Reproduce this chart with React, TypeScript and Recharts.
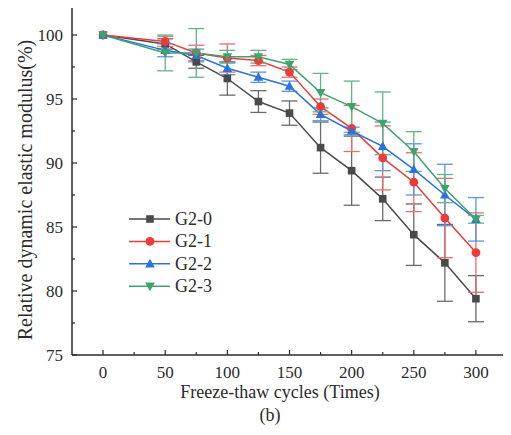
import { ErrorBar, Legend, Line, LineChart, XAxis, YAxis } from 'recharts'

const cycles = [0, 50, 75, 100, 125, 150, 175, 200, 225, 250, 275, 300]
const g20 = [100, 99.3, 97.9, 96.6, 94.8, 93.9, 91.2, 89.4, 87.2, 84.4, 82.2, 79.4]
const g21 = [100, 99.5, 98.6, 98.2, 98.0, 97.1, 94.4, 92.7, 90.4, 88.5, 85.7, 83.0]
const g22 = [100, 98.8, 98.4, 97.4, 96.7, 96.0, 93.8, 92.5, 91.3, 89.5, 87.5, 85.6]
const g23 = [100, 98.6, 98.6, 98.3, 98.3, 97.7, 95.5, 94.4, 93.1, 90.9, 88.0, 85.6]
const e20 = [0, 0.4, 0.5, 1.3, 0.85, 0.95, 2.0, 2.7, 1.7, 2.4, 3.0, 1.8]
const e21 = [0, 0.4, 0.6, 1.1, 0.4, 0.4, 0.6, 1.8, 2.5, 2.3, 3.1, 3.1]
const e22 = [0, 0.5, 0.5, 0.5, 0.4, 0.4, 0.5, 0.3, 1.9, 2.0, 2.4, 1.7]
const e23 = [0, 1.4, 1.9, 0.5, 0.5, 0.4, 1.5, 2.0, 2.45, 1.55, 1.1, 0.3]
const xTicks = [0, 25, 50, 75, 100, 125, 150, 175, 200, 225, 250, 275, 300]
const yTicks = [75, 77.5, 80, 82.5, 85, 87.5, 90, 92.5, 95, 97.5, 100]
const names = ['G2-0', 'G2-1', 'G2-2', 'G2-3']

const rows = cycles.map((c, i) => ({
  c,
  a: g20[i], b: g21[i], d: g22[i], g: g23[i],
  ea: e20[i], eb: e21[i], ed: e22[i], eg: e23[i],
}))

const font = "'Times New Roman', 'Liberation Serif', serif"
const ink = '#2b2b2b'
const colors = ['#4a4a4a', '#ec3b3b', '#2a72dc', '#3fa46c']
const barColors = ['#6a6a6a', '#f06a6a', '#5a94e6', '#5fb585']

function marker(kind: number, color: string, cx: number, cy: number, key?: string) {
  if (kind === 0) return <rect key={key} x={cx - 3.8} y={cy - 3.8} width={7.6} height={7.6} fill={color} />
  if (kind === 1) return <circle key={key} cx={cx} cy={cy} r={4.4} fill={color} />
  if (kind === 2)
    return <path key={key} d={`M${cx},${cy - 5} L${cx + 4.8},${cy + 3.6} L${cx - 4.8},${cy + 3.6} Z`} fill={color} />
  return <path key={key} d={`M${cx},${cy + 5} L${cx + 4.8},${cy - 3.6} L${cx - 4.8},${cy - 3.6} Z`} fill={color} />
}

const dotFor = (kind: number) => (p: any) => marker(kind, colors[kind], p.cx, p.cy, `m${kind}-${p.index}`)

function XTick(props: any) {
  const { x, y, payload } = props
  const major = payload.value % 50 === 0
  return (
    <g>
      <line x1={x} x2={x} y1={y} y2={y - (major ? 5 : 3)} stroke={ink} strokeWidth={1.2} />
      {major && (
        <text x={x} y={y + 23} textAnchor="middle" fontSize={17} fontFamily={font} fill={ink}>
          {payload.value}
        </text>
      )}
    </g>
  )
}

function YTick(props: any) {
  const { x, y, payload } = props
  const major = payload.value % 5 === 0
  return (
    <g>
      <line x1={x} x2={x + (major ? 5 : 3)} y1={y} y2={y} stroke={ink} strokeWidth={1.2} />
      {major && (
        <text x={x - 9} y={y + 6} textAnchor="end" fontSize={17} fontFamily={font} fill={ink}>
          {payload.value}
        </text>
      )}
    </g>
  )
}

function LegendBox() {
  return (
    <svg width={130} height={92}>
      {names.map((n, i) => {
        const cy = 11 + i * 22.4
        return (
          <g key={n}>
            <line x1={4} x2={45} y1={cy} y2={cy} stroke={colors[i]} strokeWidth={1.5} />
            {marker(i, colors[i], 25, cy)}
            <text x={50} y={cy + 6} fontSize={18} fontFamily={font} fill={ink}>
              {n}
            </text>
          </g>
        )
      })}
    </svg>
  )
}

export default function App() {
  const keys = ['a', 'b', 'd', 'g']
  const errs = ['ea', 'eb', 'ed', 'eg']
  const axisLine = { stroke: ink, strokeWidth: 1.5 }
  return (
    <div style={{ marginLeft: -8, marginTop: -8, width: 511, height: 435, position: 'relative', background: '#fff' }}>
      <LineChart width={511} height={435} data={rows} margin={{ top: 0, right: 0, bottom: 0, left: 0 }}>
        <XAxis
          dataKey="c"
          type="number"
          domain={[-25, 325]}
          ticks={xTicks}
          allowDataOverflow
          height={80}
          tickSize={0}
          tickMargin={0}
          axisLine={axisLine}
          tickLine={false}
          tick={XTick}
          interval={0}
        />
        <XAxis
          xAxisId="top"
          orientation="top"
          dataKey="c"
          type="number"
          domain={[-25, 325]}
          allowDataOverflow
          height={3}
          axisLine={axisLine}
          tickLine={false}
          tick={false}
        />
        <YAxis
          type="number"
          domain={[75, 102.5]}
          ticks={yTicks}
          allowDataOverflow
          width={72}
          tickSize={0}
          tickMargin={0}
          axisLine={axisLine}
          tickLine={false}
          tick={YTick}
          interval={0}
        />
        <YAxis
          yAxisId="right"
          orientation="right"
          type="number"
          domain={[75, 102.5]}
          allowDataOverflow
          width={4}
          axisLine={axisLine}
          tickLine={false}
          tick={false}
        />
        {keys.map((k, i) => (
          <Line
            key={k}
            dataKey={k}
            name={names[i]}
            stroke={colors[i]}
            strokeWidth={1.5}
            dot={dotFor(i)}
            activeDot={false}
            isAnimationActive={false}
          >
            <ErrorBar dataKey={errs[i]} direction="y" width={8} stroke={barColors[i]} strokeWidth={1.3} isAnimationActive={false} />
          </Line>
        ))}
        <Legend
          layout="horizontal"
          verticalAlign="middle"
          align="center"
          content={() => <LegendBox />}
          wrapperStyle={{ left: 125, top: 208, width: 130, height: 92 }}
        />
      </LineChart>
      <div
        style={{
          position: 'absolute',
          left: 0,
          top: 0,
          width: 511,
          height: 435,
          pointerEvents: 'none',
        }}
      >
        <svg width={511} height={435}>
          <text
            x={25}
            y={190}
            transform="rotate(-90 25 190)"
            textAnchor="middle"
            dominantBaseline="central"
            fontSize={20}
            fontFamily={font}
            fill={ink}
          >
            Relative dynamic elastic modulus(%)
          </text>
          <text x={280} y={398} textAnchor="middle" fontSize={18} fontFamily={font} fill={ink}>
            Freeze-thaw cycles (Times)
          </text>
          <text x={270} y={421} textAnchor="middle" fontSize={18} fontFamily={font} fill={ink}>
            (b)
          </text>
        </svg>
      </div>
    </div>
  )
}
